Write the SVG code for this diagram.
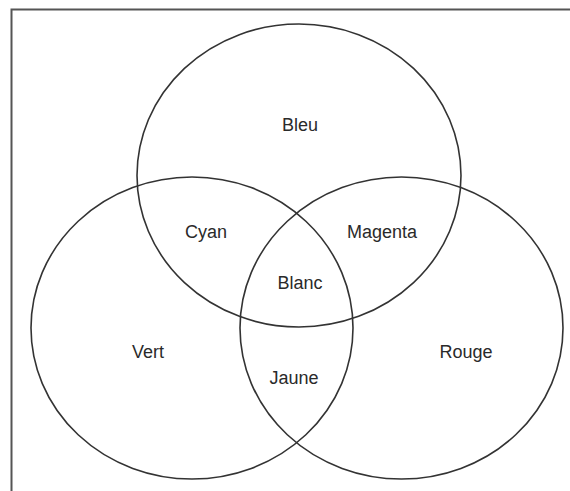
<svg xmlns="http://www.w3.org/2000/svg" width="570" height="491" viewBox="0 0 570 491">
<style>
.c{fill:none;stroke:#333;stroke-width:1.6}
.t{font-family:"Liberation Sans",Arial,sans-serif;font-size:18px;fill:#2a2a2a;text-anchor:middle}
.b{fill:none;stroke:#555;stroke-width:2}
</style>
<rect width="570" height="491" fill="#fff"/>
<path class="b" d="M11.5,491 V9.5 H570"/>
<g id="connectors"></g>
<g id="bleu"><ellipse class="c" cx="299" cy="175.5" rx="162" ry="151.5"/><text class="t" x="300" y="131">Bleu</text></g>
<g id="vert"><ellipse class="c" cx="192" cy="328" rx="161" ry="151"/><text class="t" x="148" y="358">Vert</text></g>
<g id="rouge"><ellipse class="c" cx="401.5" cy="328" rx="161.5" ry="151"/><text class="t" x="466" y="358">Rouge</text></g>
<g id="cyan"><text class="t" x="206" y="238">Cyan</text></g>
<g id="magenta"><text class="t" x="382" y="238">Magenta</text></g>
<g id="blanc"><text class="t" x="300" y="289">Blanc</text></g>
<g id="jaune"><text class="t" x="294" y="384">Jaune</text></g>
</svg>
